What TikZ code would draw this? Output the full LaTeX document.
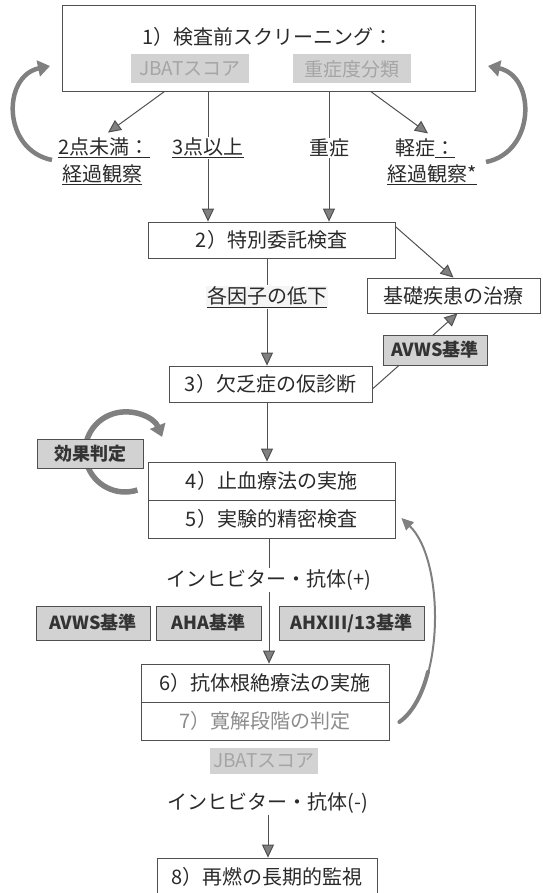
\documentclass[tikz,border=0pt]{standalone}
\usepackage{fontspec}
\setmainfont{Noto Sans CJK JP}
\usetikzlibrary{arrows.meta,calc}
\definecolor{ln}{HTML}{505050}
\definecolor{gfill}{HTML}{D2D2D2}
\definecolor{gtext}{HTML}{A5A5A5}
\definecolor{arrfill}{HTML}{808080}
\definecolor{txt}{HTML}{2A2A2A}
\tikzset{
  box/.style={draw=ln, line width=0.8pt, fill=white, inner sep=0pt, text=txt,
    font=\fontsize{20}{22}\selectfont},
  crit/.style={draw=ln, line width=0.8pt, fill=gfill, inner sep=0pt, text=black!80,
    font=\bfseries\fontsize{18}{20}\selectfont},
  gl/.style={fill=gfill, inner sep=0pt, text=gtext, font=\fontsize{19}{21}\selectfont},
  lbl/.style={inner sep=1pt, text=txt, font=\fontsize{20}{22}\selectfont},
  conn/.style={draw=ln, line width=1pt},
  tip/.style={-{Triangle[length=13pt,width=12pt,fill=arrfill]}},
  bigarc/.style={draw=arrfill, line width=4.5pt, -{Triangle[length=12pt,width=16pt,fill=arrfill]}},
}
\begin{document}
\begin{tikzpicture}[x=1pt,y=-1pt]
\useasboundingbox (0,0) rectangle (542,893);

% ---------- box 1 ----------
\node[box, minimum width=413pt, minimum height=86pt] (b1) at (268.5,48) {};
\node[lbl] (t1) at (268,37) {1）検査前スクリーニング：};
\node[gl, minimum width=118pt, minimum height=29pt] (jb1) at (190,69) {JBATスコア};
\node[gl, minimum width=118pt, minimum height=29pt] (jdo) at (352,69) {重症度分類};

% ---------- labels row ----------
\node[lbl] (l2a) at (104,148) {\underline{2点未満：}};
\node[lbl] (l2b) at (102,175) {\underline{経過観察}};
\node[lbl] (l3) at (208,148) {\underline{3点以上}};
\node[lbl] (lj) at (329,148) {重症};
\node[lbl] (lk) at (425,148) {軽症\underline{：}};
\node[lbl] (lkb) at (432,175) {\underline{経過観察*}};

% ---------- box 2 etc ----------
\node[box, minimum width=247pt, minimum height=36pt] (b2) at (271.5,240) {2）特別委託検査};
\node[lbl, fill=black!4] (kaku) at (267,297) {\underline{各因子の低下}};
\node[box, minimum width=173pt, minimum height=35pt] (kiso) at (453.5,295.5) {基礎疾患の治療};
\node[box, minimum width=203pt, minimum height=36pt] (b3) at (270.5,384) {3）欠乏症の仮診断};

% connectors top
\draw[conn, tip] ($(b1.south west)+(103,0)$) -- ($(l2a.north)+(4,-4)$);
\draw[conn] (l3.north |- b1.south) -- (l3.north);
\draw[conn] (lj.north |- b1.south) -- (lj.north);
\draw[conn, tip] ($(b1.south west)+(309,0)$) -- ($(lk.north)+(3,-4)$);
\draw[conn, tip] (l3.south) -- (l3.south |- b2.north);
\draw[conn, tip] (lj.south) -- (lj.south |- b2.north);

\coordinate (la0) at (52,160);
\coordinate (la1) at (50,66);
\draw[bigarc] (la0) .. controls (2,150) and (2,76) .. (la1);
\coordinate (ra0) at (486,162);
\coordinate (ra1) at (488,66);
\draw[bigarc] (ra0) .. controls (536,152) and (536,76) .. (ra1);

\draw[conn, tip] ($(b2.north east)+(0,5)$) -- (kiso.north);
\draw[conn] (b2.south -| kaku.north) -- (kaku.north);
\draw[conn, tip] (kaku.south) -- (kaku.south |- b3.north);
\draw[conn, tip] ($(b3.east)+(0,5)$) -- ($(kiso.south)+(4,0)$);
\node[crit, minimum width=104pt, minimum height=30pt] (avws1) at (435,350) {AVWS基準};

% ---------- box 4/5 ----------
\node[box, minimum width=247pt, minimum height=38pt] (b4) at (271.5,481) {4）止血療法の実施};
\node[box, minimum width=247pt, minimum height=38pt] (b5) at (271.5,519) {5）実験的精密検査};
\draw[conn, tip] (b3.south -| kaku.south) -- (kaku.south |- b4.north);

\coordinate (lc) at (125,452);
\draw[bigarc, line width=5.5pt] ($(lc)+(12.4,38)$) arc[start angle=72, end angle=338, radius=40];
\node[crit, minimum width=106pt, minimum height=29pt] (kouka) at (90,453.5) {効果判定};

% ---------- inhibitor + ----------
\node[lbl] (inh1) at (269,580) {インヒビター・抗体(+)};
\draw[conn] (b5.south -| inh1.north) -- (inh1.north);
\node[crit, minimum width=114pt, minimum height=34pt] (c1) at (93,623) {AVWS基準};
\node[crit, minimum width=105pt, minimum height=34pt] (c2) at (208.5,623) {AHA基準};
\node[crit, minimum width=145pt, minimum height=34pt] (c3) at (351.5,623) {AHXIII/13基準};

\node[box, minimum width=248pt, minimum height=38pt] (b6) at (265,683) {6）抗体根絶療法の実施};
\node[box, minimum width=248pt, minimum height=38pt, text=black!45] (b7) at (265,721) {7）寛解段階の判定};
\draw[conn, tip] (inh1.south) -- (inh1.south |- b6.north);

\coordinate (rb0) at ($(b7.east)+(10,1)$);
\coordinate (rb1) at ($(b5.east)+(6,-1)$);
\draw[draw=arrfill, line width=2pt, -{Triangle[length=12pt,width=11pt,fill=arrfill]}]
  (rb0) .. controls (445,690) and (445,560) .. (rb1);
\draw[draw=arrfill, line width=4pt, line cap=round]
  (rb0) .. controls (412.8,712.4) and (422.5,694) .. (428,671.8);

% ---------- bottom ----------
\node[gl, minimum width=108pt, minimum height=26pt] (jb2) at (264,761) {JBATスコア};
\node[lbl] (inh2) at (268,803) {インヒビター・抗体(-)};
\node[box, minimum width=220pt, minimum height=37pt] (b8) at (267,876.5) {8）再燃の長期的監視};
\draw[conn, tip] (inh2.south) -- (inh2.south |- b8.north);
\end{tikzpicture}
\end{document}
